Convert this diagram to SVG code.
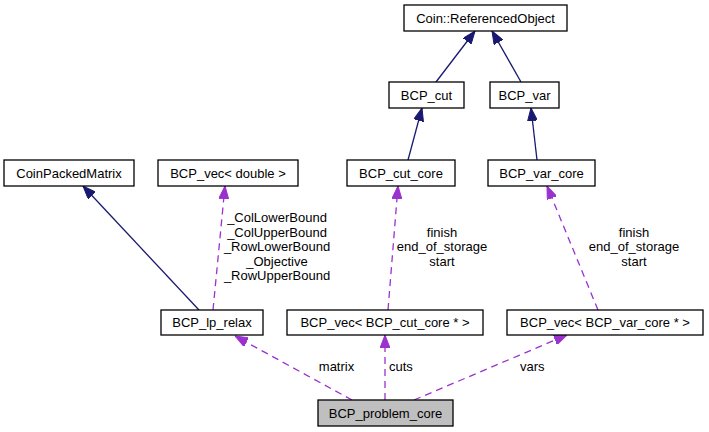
<svg xmlns="http://www.w3.org/2000/svg" width="709" height="432" viewBox="0 0 709 432">
<defs>
<style>
.node rect{fill:#ffffff;stroke:#000000;stroke-width:1.3}
.node text{font-family:"Liberation Sans",Arial,sans-serif;font-size:13px;fill:#000;text-anchor:middle}
.inh{fill:none;stroke:#191970;stroke-width:1.3}
.use{fill:none;stroke:#9a32cd;stroke-width:1.3;stroke-dasharray:7,5}
.lbl{font-family:"Liberation Sans",Arial,sans-serif;font-size:13px;fill:#000}
</style>
<marker id="ah-navy" markerUnits="userSpaceOnUse" markerWidth="13" markerHeight="10" refX="13" refY="5" orient="auto">
<path d="M0,0 L13,5 L0,10 z" fill="#191970" stroke="#191970" stroke-width="1"/>
</marker>
<marker id="ah-purple" markerUnits="userSpaceOnUse" markerWidth="13" markerHeight="10" refX="13" refY="5" orient="auto">
<path d="M0,0 L13,5 L0,10 z" fill="#9a32cd" stroke="#9a32cd" stroke-width="1"/>
</marker>
</defs>
<rect width="709" height="432" fill="#ffffff"/>
<g id="edges">
<path class="inh" d="M436,82 L475,31" marker-end="url(#ah-navy)"/>
<path class="inh" d="M521,82 L492,31" marker-end="url(#ah-navy)"/>
<path class="inh" d="M408,160 L422,108" marker-end="url(#ah-navy)"/>
<path class="inh" d="M537,160 L531,108" marker-end="url(#ah-navy)"/>
<path class="inh" d="M199,310 L83,186" marker-end="url(#ah-navy)"/>
<path class="use" d="M213,310 L225,186" marker-end="url(#ah-purple)"/>
<path class="use" d="M388,310 L398,186" marker-end="url(#ah-purple)"/>
<path class="use" d="M598,310 L547,186" marker-end="url(#ah-purple)"/>
<path class="use" d="M352,400 L235,336" marker-end="url(#ah-purple)"/>
<path class="use" d="M385,400 L385,335" marker-end="url(#ah-purple)"/>
<path class="use" d="M414,400 L567,335" marker-end="url(#ah-purple)"/>
<text class="lbl" text-anchor="middle" x="277" y="222">_ColLowerBound</text>
<text class="lbl" text-anchor="middle" x="277" y="236.5">_ColUpperBound</text>
<text class="lbl" text-anchor="middle" x="277" y="251">_RowLowerBound</text>
<text class="lbl" text-anchor="middle" x="277" y="265.5">_Objective</text>
<text class="lbl" text-anchor="middle" x="277" y="280">_RowUpperBound</text>
<text class="lbl" text-anchor="middle" x="442" y="236.5">finish</text>
<text class="lbl" text-anchor="middle" x="442" y="251">end_of_storage</text>
<text class="lbl" text-anchor="middle" x="442" y="265.5">start</text>
<text class="lbl" text-anchor="middle" x="634" y="236.5">finish</text>
<text class="lbl" text-anchor="middle" x="634" y="251">end_of_storage</text>
<text class="lbl" text-anchor="middle" x="634" y="265.5">start</text>
<text class="lbl" text-anchor="middle" x="336.5" y="371">matrix</text>
<text class="lbl" x="389" y="371">cuts</text>
<text class="lbl" x="520" y="371">vars</text>
</g>
<g id="node-coin-referencedobject" class="node"><rect x="404" y="5" width="163" height="26"/><text x="485.5" y="22.5">Coin::ReferencedObject</text></g>
<g id="node-bcp-cut" class="node"><rect x="389" y="82" width="75" height="26"/><text x="426.5" y="99.5">BCP_cut</text></g>
<g id="node-bcp-var" class="node"><rect x="490" y="82" width="69" height="26"/><text x="524.5" y="99.5">BCP_var</text></g>
<g id="node-coinpackedmatrix" class="node"><rect x="4" y="160" width="130" height="26"/><text x="69" y="177.5">CoinPackedMatrix</text></g>
<g id="node-bcp-vec-double" class="node"><rect x="158" y="160" width="140" height="26"/><text x="228" y="177.5">BCP_vec&lt; double &gt;</text></g>
<g id="node-bcp-cut-core" class="node"><rect x="347" y="160" width="108" height="26"/><text x="401" y="177.5">BCP_cut_core</text></g>
<g id="node-bcp-var-core" class="node"><rect x="488" y="160" width="107" height="26"/><text x="541.5" y="177.5">BCP_var_core</text></g>
<g id="node-bcp-lp-relax" class="node"><rect x="161" y="310" width="102" height="25"/><text x="212" y="327">BCP_lp_relax</text></g>
<g id="node-bcp-vec-cut-core" class="node"><rect x="287" y="310" width="196" height="25"/><text x="385" y="327">BCP_vec&lt; BCP_cut_core * &gt;</text></g>
<g id="node-bcp-vec-var-core" class="node"><rect x="507" y="310" width="196" height="25"/><text x="605" y="327">BCP_vec&lt; BCP_var_core * &gt;</text></g>
<g id="node-bcp-problem-core" class="node"><rect x="318" y="400" width="135" height="26" style="fill:#bfbfbf"/><text x="385.5" y="417.5">BCP_problem_core</text></g>
</svg>
